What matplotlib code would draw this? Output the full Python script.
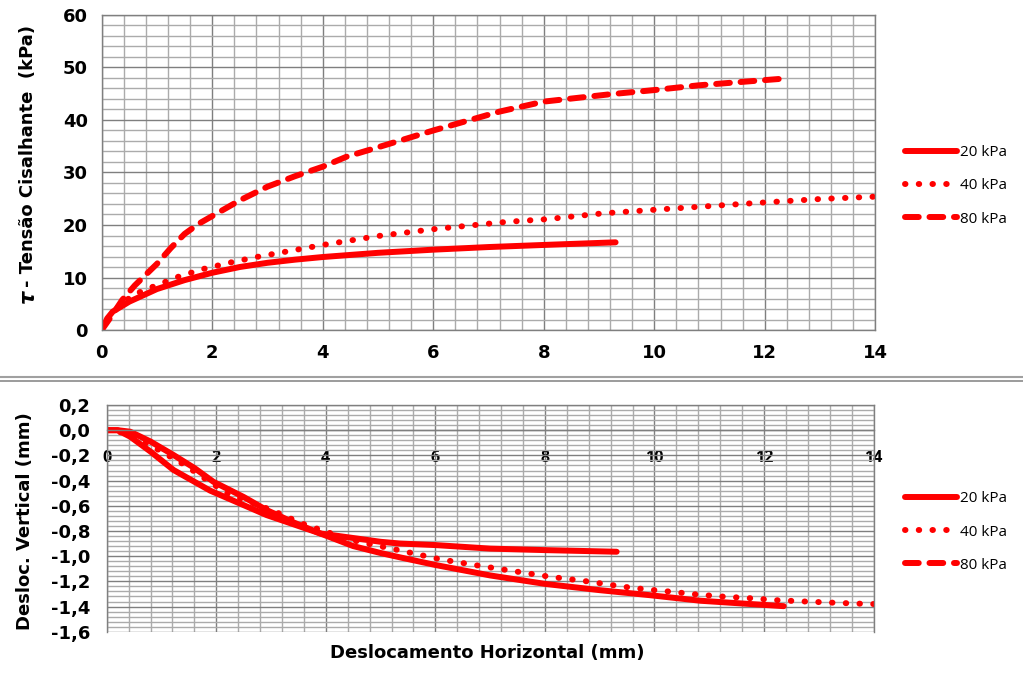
import matplotlib
matplotlib.use('Agg')
import matplotlib.pyplot as plt
from matplotlib.lines import Line2D
from matplotlib.ticker import MultipleLocator

# Top chart: shear stress (kPa) vs horizontal displacement (mm)
tau_20_x = [0, 0.1, 0.2, 0.5, 1.0, 1.5, 2.0, 2.5, 3.0, 3.5, 4.0, 5.0, 6.0, 7.0, 8.0, 9.3]
tau_20_y = [0, 2.2, 3.5, 5.4, 7.8, 9.5, 10.9, 12.0, 12.8, 13.4, 13.9, 14.7, 15.3, 15.8, 16.2, 16.7]

tau_40_x = [0, 0.2, 0.57, 0.93, 1.4, 1.83, 2.35, 2.8, 3.48, 4.0, 5.0, 6.0, 7.33, 8.05, 9.05, 10.0, 11.0, 12.0, 13.0, 14.0]
tau_40_y = [0, 3.5, 6.7, 8.25, 10.2, 11.6, 12.9, 13.9, 15.2, 16.2, 17.9, 19.2, 20.6, 21.1, 22.2, 22.9, 23.6, 24.3, 24.95, 25.4]

tau_80_x = [0, 0.2, 0.37, 0.6, 1.0, 1.25, 1.5, 1.75, 2.0, 2.5, 3.0, 3.5, 4.0, 4.43, 5.0, 6.0, 7.2, 8.0, 9.2, 10.0, 10.8, 12.0, 12.37]
tau_80_y = [0, 3.0, 5.7, 8.5, 12.6, 15.6, 18.3, 20.2, 21.7, 24.7, 27.3, 29.3, 31.1, 33.0, 34.8, 38.0, 41.6, 43.5, 44.9, 45.7, 46.6, 47.6, 47.9]

# Bottom chart: vertical displacement (mm) vs horizontal displacement (mm)
dv_20_x = [0, 0.2, 0.43, 0.8, 1.22, 1.89, 2.92, 3.9, 5.0, 5.36, 6.0, 7.0, 8.0, 9.31]
dv_20_y = [0, 0, -0.052, -0.17, -0.316, -0.48, -0.674, -0.82, -0.886, -0.90, -0.912, -0.94, -0.952, -0.965]

dv_40_x = [0, 0.3, 0.8, 1.4, 2.19, 3.04, 3.56, 4.0, 4.6, 5.2, 6.09, 6.76, 7.43, 8.1, 8.77, 9.44, 9.86,
           10.32, 10.77, 11.22, 11.72, 12.25, 12.75, 13.3, 13.8, 14.0]
dv_40_y = [0, -0.02, -0.12, -0.27, -0.50, -0.64, -0.74, -0.806, -0.886, -0.94, -1.025, -1.073, -1.119,
           -1.164, -1.2, -1.243, -1.264, -1.283, -1.304, -1.32, -1.333, -1.35, -1.36, -1.37, -1.378, -1.38]

dv_80_x = [0, 0.2, 0.43, 0.8, 1.22, 1.6, 1.95, 2.5, 2.92, 3.4, 3.9, 4.5, 5.0, 5.36, 6.0, 7.0, 8.0, 9.0,
           9.92, 10.84, 11.75, 12.36]
dv_80_y = [0, 0, -0.012, -0.09, -0.197, -0.3, -0.41, -0.53, -0.634, -0.73, -0.82, -0.92, -0.975, -1.01,
           -1.07, -1.153, -1.22, -1.27, -1.31, -1.354, -1.38, -1.397]

labels = ['20 kPa', '40 kPa', '80 kPa']

dv_ticks = [0.2, 0.0, -0.2, -0.4, -0.6, -0.8, -1.0, -1.2, -1.4, -1.6]
dv_tick_labels = ['0,2', '0,0', '-0,2', '-0,4', '-0,6', '-0,8', '-1,0', '-1,2', '-1,4', '-1,6']

RED = '#ff0000'
LW = 4.3
SOLID = dict(linestyle='-', solid_capstyle='round')
DOT = dict(linestyle=(0, (0.08, 2.22)), dash_capstyle='round')
DASH = dict(linestyle=(0, (2.3, 1.8)), dash_capstyle='round')

BOLD = dict(family='DejaVu Sans', weight='bold')


def style_grid(ax):
    ax.grid(which='major', color='#7f7f7f', lw=1.0)
    ax.grid(which='minor', color='#ababab', lw=1.0)
    ax.set_axisbelow(True)
    for s in ax.spines.values():
        s.set_color('#7f7f7f')
        s.set_linewidth(1.0)
    ax.tick_params(which='both', length=0)


fig = plt.figure(figsize=(10.23, 6.75), dpi=100)

# top chart
ax1 = fig.add_axes([0.0994, 0.5111, 0.7562, 0.4667])
ax1.plot(tau_20_x, tau_20_y, color=RED, lw=LW, **SOLID)
ax1.plot(tau_40_x, tau_40_y, color=RED, lw=LW, **DOT)
ax1.plot(tau_80_x, tau_80_y, color=RED, lw=LW, **DASH)
ax1.set_xlim(0, 14)
ax1.set_ylim(0, 60)
ax1.xaxis.set_major_locator(MultipleLocator(2))
ax1.xaxis.set_minor_locator(MultipleLocator(0.4))
ax1.yaxis.set_major_locator(MultipleLocator(10))
ax1.yaxis.set_minor_locator(MultipleLocator(2))
style_grid(ax1)
ax1.tick_params(axis='x', pad=10)
ax1.tick_params(axis='y', pad=10)
for t in ax1.get_xticklabels() + ax1.get_yticklabels():
    t.set_fontproperties(dict(BOLD, size=13))

# bottom chart
ax2 = fig.add_axes([0.1043, 0.0641, 0.7496, 0.3359])
ax2.plot(dv_20_x, dv_20_y, color=RED, lw=LW, **SOLID)
ax2.plot(dv_40_x, dv_40_y, color=RED, lw=LW, **DOT)
ax2.plot(dv_80_x, dv_80_y, color=RED, lw=LW, **SOLID)
ax2.set_xlim(0, 14)
ax2.set_ylim(-1.6, 0.2)
ax2.xaxis.set_major_locator(MultipleLocator(2))
ax2.xaxis.set_minor_locator(MultipleLocator(0.4))
ax2.set_yticks(dv_ticks, dv_tick_labels)
ax2.yaxis.set_minor_locator(MultipleLocator(0.04))
style_grid(ax2)
ax2.spines['bottom'].set_position(('data', 0))
ax2.tick_params(axis='x', pad=14)
ax2.tick_params(axis='y', pad=12)
for t in ax2.get_xticklabels():
    t.set_fontproperties(dict(family='Open Sans', weight='bold', size=11.5))
for t in ax2.get_yticklabels():
    t.set_fontproperties(dict(BOLD, size=13))

# axis titles
fig.text(0.0274, 1 - 303 / 675, 'τ', rotation=90, ha='center', va='bottom',
         family='DejaVu Sans', weight='bold', style='italic', size=15)
fig.text(0.0274, 1 - 287 / 675, '- Tensão Cisalhante  (kPa)', rotation=90, ha='center',
         va='bottom', size=13, **BOLD)
fig.text(0.024, 1 - 521 / 675, 'Desloc. Vertical (mm)', rotation=90, ha='center', va='center',
         size=13, **BOLD)
fig.text(487.5 / 1023, 1 - 653 / 675, 'Deslocamento Horizontal (mm)', ha='center', va='center',
         size=13, **BOLD)

# legends
handles = [Line2D([], [], color=RED, lw=LW, **SOLID),
           Line2D([], [], color=RED, lw=LW, **DOT),
           Line2D([], [], color=RED, lw=LW, **DASH)]
for yc in (1 - 186 / 675, 1 - 532 / 675):
    fig.legend(handles, labels, loc='center left', bbox_to_anchor=(905 / 1023, yc),
               frameon=False, handlelength=3.4, handletextpad=0.2, labelspacing=1.2,
               borderpad=0, borderaxespad=0, prop=dict(family='Open Sans', size=11))

# double divider between the charts
fig.add_artist(Line2D([0, 1], [1 - 376.5 / 675] * 2, transform=fig.transFigure,
                      color='#a0a0a0', lw=1.5))
fig.add_artist(Line2D([0, 1], [1 - 380.5 / 675] * 2, transform=fig.transFigure,
                      color='#8a8a8a', lw=1.2))

fig.savefig('out.png', dpi=100)
